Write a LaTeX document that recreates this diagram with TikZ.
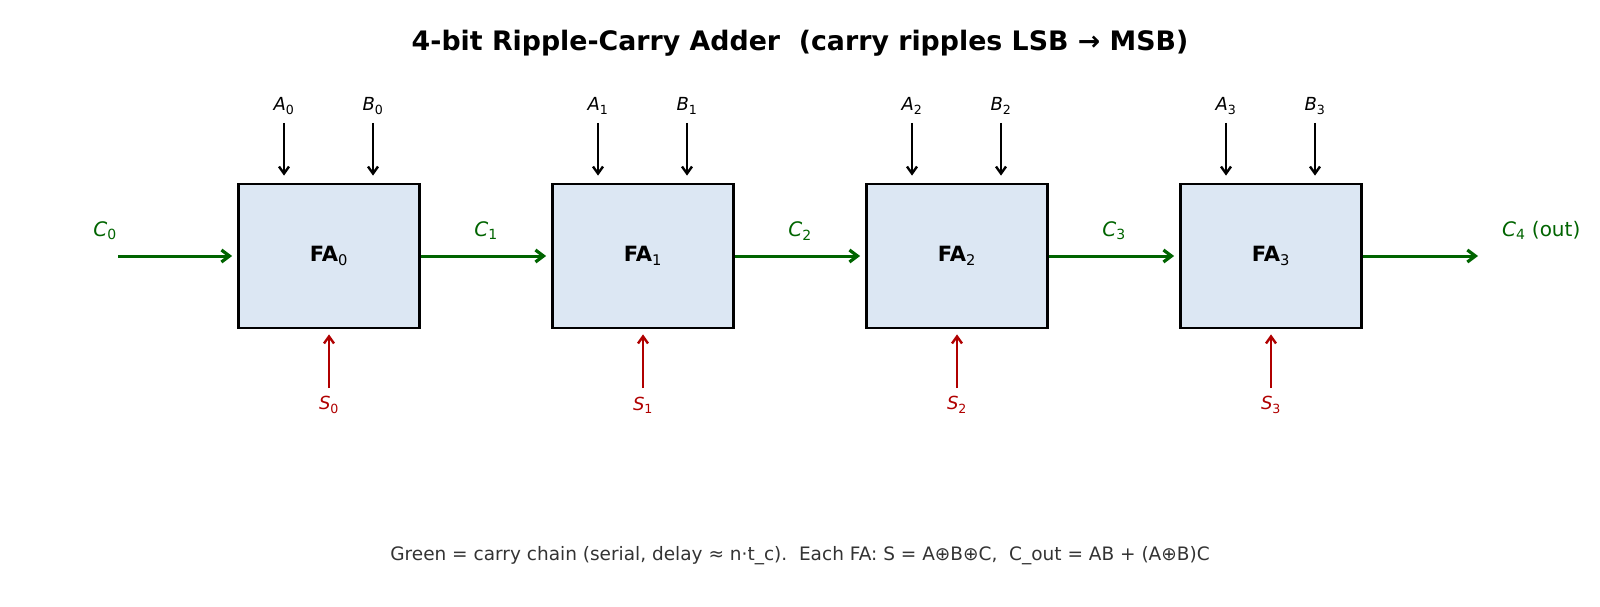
\documentclass[tikz,border=0pt]{standalone}
\usepackage{fontspec}
\setmainfont{DejaVu Sans}
\usetikzlibrary{arrows.meta,calc}
\definecolor{boxfill}{HTML}{DCE7F3}
\definecolor{carry}{HTML}{006400}
\definecolor{sumred}{HTML}{B00000}
\definecolor{foot}{HTML}{333333}
\newcommand{\lbl}[2]{\textit{#1}\textsubscript{\upshape #2}}
\tikzset{
  fabox/.style={draw=black, line width=2.8pt, fill=boxfill, minimum width=181pt, minimum height=144pt, inner sep=0pt, font=\fontsize{21}{25}\selectfont},
  inarrow/.style={draw=black, line width=2pt, -{Straight Barb[length=7pt,width=10pt,line width=2.4pt]}},
  sumarrow/.style={draw=sumred, line width=2pt, -{Straight Barb[length=7pt,width=10pt,line width=2.4pt]}},
  carryarrow/.style={draw=carry, line width=3pt, -{Straight Barb[length=8pt,width=12pt,line width=3.2pt]}},
  inlabel/.style={font=\fontsize{18}{21}\selectfont, inner sep=0pt},
  sumlabel/.style={font=\fontsize{18}{21}\selectfont, text=sumred, inner sep=0pt},
  carrylabel/.style={font=\fontsize{20}{24}\selectfont, text=carry, inner sep=0pt},
}
\begin{document}
\begin{tikzpicture}[x=1pt,y=-1pt]
\useasboundingbox (0,0) rectangle (1600,607);
\node[font=\bfseries\fontsize{26.8}{32}\selectfont] (title) at (800,43) {4-bit Ripple-Carry Adder\ \ (carry ripples LSB → MSB)};
\foreach \i in {0,1,2,3} {
  \pgfmathsetmacro{\cx}{329+314*\i}
  \node[fabox] (fa\i) at (\cx,256) {\textbf{FA}\textsubscript{\i}};
  \node[inlabel] (la\i) at (\cx-45,106) {\lbl{A}{\i}};
  \node[inlabel] (lb\i) at (\cx+44,106) {\lbl{B}{\i}};
  \coordinate (sa\i) at (\cx-45,123);
  \coordinate (sb\i) at (\cx+44,123);
  \draw[inarrow, shorten >=7pt] (sa\i) -- (sa\i |- fa\i.north);
  \draw[inarrow, shorten >=7pt] (sb\i) -- (sb\i |- fa\i.north);
  \node[sumlabel] (ls\i) at (\cx,405) {\lbl{S}{\i}};
  \coordinate (ss\i) at (\cx,388);
  \draw[sumarrow, shorten >=5pt] (ss\i) -- (fa\i.south);
}
\coordinate (cin) at (118,256);
\node[carrylabel] (lc0) at (105,231) {\lbl{C}{0}};
\draw[carryarrow, shorten >=5pt] (cin) -- (fa0.west);
\foreach \i/\j in {0/1,1/2,2/3} {
  \draw[carryarrow, shorten >=5pt] (fa\i.east) -- (fa\j.west);
  \node[carrylabel] (lc\j) at ($(fa\i.east)!0.5!(fa\j.west)+(0,-25)$) {\lbl{C}{\j}};
}
\coordinate (cout) at (1478,256);
\draw[carryarrow] (fa3.east) -- (cout);
\node[carrylabel, anchor=west] (lc4) at (1502,230) {\lbl{C}{4} (out)};
\node[font=\fontsize{18.5}{22}\selectfont, text=foot] (note) at (800,556) {Green = carry chain (serial, delay ≈ n·t\_c).\ \ Each FA: S = A⊕B⊕C,\ \ C\_out = AB + (A⊕B)C};
\end{tikzpicture}
\end{document}
